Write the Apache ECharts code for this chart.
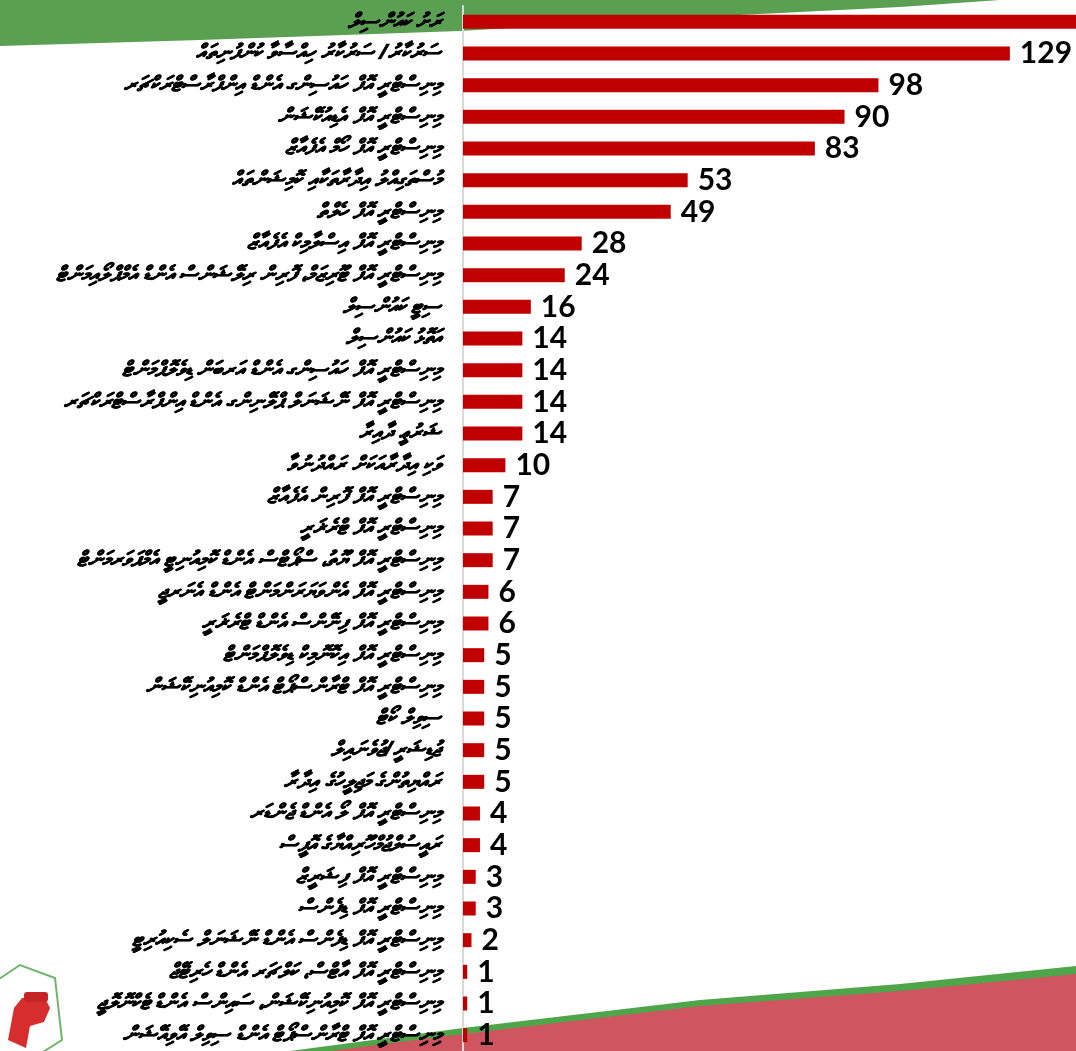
<!DOCTYPE html>
<html><head><meta charset="utf-8">
<script src="https://cdn.jsdelivr.net/npm/echarts@6/dist/echarts.min.js"></script>
<style>html,body{margin:0;padding:0;background:#fff}#c{width:1076px;height:1051px}</style>
</head><body><div id="c"></div>
<script>
const categories = [
 "ރަށު ކައުންސިލް",
 "ސަރުކާރު/ ސަރުކާރު ހިއްސާވާ ކުންފުނިތައް",
 "މިނިސްޓްރީ އޮފް ހައުސިންގ އެންޑް އިންފްރާސްޓްރަކްޗަރ",
 "މިނިސްޓްރީ އޮފް އެޑިއުކޭޝަން",
 "މިނިސްޓްރީ އޮފް ހޯމް އެފެއާޒް",
 "މުސްތަގިއްލު އިދާރާތަކާއި ކޮމިޝަންތައް",
 "މިނިސްޓްރީ އޮފް ހެލްތް",
 "މިނިސްޓްރީ އޮފް އިސްލާމިކް އެފެއާޒް",
 "މިނިސްޓްރީ އޮފް ޓޫރިޒަމް، ފޮރިން ރިލޭޝަންސް އެންޑް އެމްޕްލޯއިމަންޓް",
 "ސިޓީ ކައުންސިލް",
 "އަތޮޅު ކައުންސިލް",
 "މިނިސްޓްރީ އޮފް ހައުސިންގ އެންޑް އަރބަން ޑިވެލޮޕްމަންޓް",
 "މިނިސްޓްރީ އޮފް ނޭޝަނަލް ޕްލޭނިންގ އެންޑް އިންފްރާސްޓްރަކްޗަރ",
 "ޝަރުޢީ ދާއިރާ",
 "ވަކި އިދާރާއަކަށް ރައްދުނުވާ",
 "މިނިސްޓްރީ އޮފް ފޮރިން އެފެއާޒް",
 "މިނިސްޓްރީ އޮފް ޓްރެޜަރީ",
 "މިނިސްޓްރީ އޮފް ޔޫތު، ސްޕޯޓްސް އެންޑް ކޮމިއުނިޓީ އެމްޕަވަރމަންޓް",
 "މިނިސްޓްރީ އޮފް އެންވަޔަރަންމަންޓް އެންޑް އެނަރޖީ",
 "މިނިސްޓްރީ އޮފް ފިނޭންސް އެންޑް ޓްރެޜަރީ",
 "މިނިސްޓްރީ އޮފް އިކޮނޮމިކް ޑިވެލޮޕްމަންޓް",
 "މިނިސްޓްރީ އޮފް ޓްރާންސްޕޯޓް އެންޑް ކޮމިއުނިކޭޝަން",
 "ސިވިލް ކޯޓް",
 "ޖުޑިޝަރީ/ޖުވެނައިލް",
 "ރައްޔިތުންގެ މަޖިލީހުގެ އިދާރާ",
 "މިނިސްޓްރީ އޮފް ލޯ އެންޑް ޖެންޑަރ",
 "ރައީސުލްޖުމްހޫރިއްޔާގެ އޮފީސް",
 "މިނިސްޓްރީ އޮފް ފިޝަރީޒް",
 "މިނިސްޓްރީ އޮފް ޑިފެންސް",
 "މިނިސްޓްރީ އޮފް ޑިފެންސް އެންޑް ނޭޝަނަލް ސެކިއުރިޓީ",
 "މިނިސްޓްރީ އޮފް އާޓްސް، ކަލްޗަރ އެންޑް ހެރިޓޭޖް",
 "މިނިސްޓްރީ އޮފް ކޮމިއުނިކޭޝަން، ސައިންސް އެންޑް ޓެކްނޮލޮޖީ",
 "މިނިސްޓްރީ އޮފް ޓްރާންސްޕޯޓް އެންޑް ސިވިލް އޭވިއޭޝަން"
];
const values = [170, 129, 98, 90, 83, 53, 49, 28, 24, 16, 14, 14, 14, 14, 10, 7, 7, 7, 6, 6, 5, 5, 5, 5, 5, 4, 4, 3, 3, 2, 1, 1, 1];
const axisMax = 144.6;

const chart = echarts.init(document.getElementById('c'));
chart.setOption({
  animation: false,
  graphic: [
    {type:'polygon', z:-5, shape:{points:[[0,0],[1000,0],[900,7],[700,17],[460,31],[200,40],[0,46]]}, style:{fill:'#5b9f52'}},
    {type:'polygon', z:-5, shape:{points:[[290,1051],[463,1028],[700,1000],[900,984],[1076,966],[1076,1051]]}, style:{fill:'#4fa64a'}},
    {type:'polygon', z:-4, shape:{points:[[330,1051],[463,1034],[700,1006],[900,991],[1076,974],[1076,1051]]}, style:{fill:'#cf5561'}},
    {type:'polygon', z:-3, shape:{points:[[-10,985],[20,965],[55,978],[62,1040],[30,1060],[-10,1051]]}, style:{fill:'#ffffff', stroke:'#6fb56a', lineWidth:2}},
    {type:'polygon', z:-2, shape:{points:[[8,1040],[14,1008],[22,998],[44,996],[50,1008],[44,1022],[30,1026],[26,1048]]}, style:{fill:'#d62e2e'}},
    {type:'rect', z:-2, shape:{x:24,y:992,width:24,height:10,r:3}, style:{fill:'#c42525'}}
  ],
  grid: {left: 463, right: 0, top: 6, height: 1046},
  xAxis: {type: 'value', min: 0, max: axisMax, show: false},
  yAxis: {
    type: 'category', data: categories, inverse: true,
    axisLine: {lineStyle: {color: '#d9d9d9', width: 2}},
    axisTick: {show: false},
    axisLabel: {fontSize: 21, fontStyle: 'italic', fontWeight: 'bold', color: '#000', margin: 22, fontFamily: 'Noto Sans',
                textBorderColor: '#000', textBorderWidth: 0.6}
  },
  series: [{
    type: 'bar', data: values, barWidth: 14,
    itemStyle: {color: '#C00000'},
    label: {show: true, position: 'right', distance: 10, fontSize: 30, fontWeight: 'bold', fontFamily: 'Lato', color: '#000'}
  }]
});
</script>
</body></html>
